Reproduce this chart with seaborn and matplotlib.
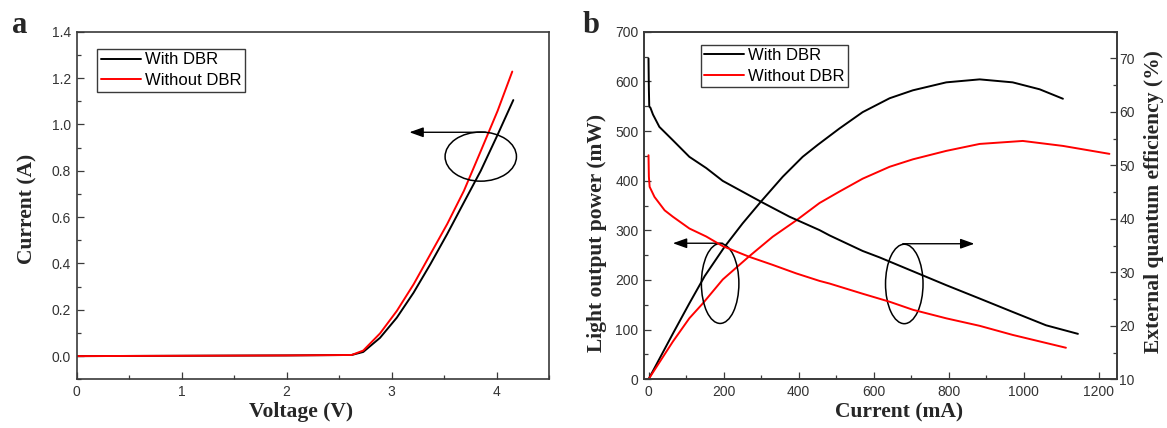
import matplotlib
matplotlib.use("Agg")
import matplotlib.pyplot as plt
from matplotlib.patches import Ellipse
from matplotlib.ticker import MultipleLocator
import pandas as pd
import seaborn as sns

# ---------------- data ----------------
series_labels = ["With DBR", "Without DBR"]
series_colors = ["#000000", "#ff0000"]

# (a) current-voltage
v_with = [0.0, 0.65, 2.0, 2.62, 2.73, 2.89, 3.05, 3.21, 3.37, 3.53, 3.69, 3.85, 4.01, 4.16]
i_with = [0.0, 0.001, 0.003, 0.005, 0.018, 0.079, 0.166, 0.274, 0.397, 0.527, 0.664, 0.800, 0.955, 1.105]
v_without = [0.0, 0.65, 2.0, 2.62, 2.73, 2.89, 3.05, 3.21, 3.37, 3.53, 3.69, 3.85, 4.01, 4.15]
i_without = [0.0, 0.001, 0.003, 0.005, 0.024, 0.098, 0.195, 0.31, 0.44, 0.57, 0.714, 0.885, 1.058, 1.228]

# (b) light output power vs current
cur_lop_with = [0, 65, 109, 150, 203, 251, 300, 358, 411, 451, 509, 571, 643, 705, 794, 883, 971, 1043, 1105]
lop_with = [0, 92, 153, 208, 267, 314, 358, 408, 448, 472, 505, 538, 566, 582, 598, 604, 598, 584, 565]
cur_lop_without = [0, 65, 109, 145, 198, 269, 331, 394, 456, 509, 571, 643, 705, 794, 883, 998, 1105, 1229]
lop_without = [0, 76, 123, 153, 201, 248, 287, 320, 355, 378, 404, 428, 443, 460, 474, 480, 470, 454]

# (b) external quantum efficiency vs current
cur_eqe_with = [0, 1, 2, 5, 12, 29, 65, 109, 154, 198, 300, 376, 456, 483, 571, 616, 705, 794, 883, 971, 1060, 1145]
eqe_with = [70.0, 64.2, 61.0, 60.8, 59.5, 57.2, 54.7, 51.6, 49.5, 47.1, 43.2, 40.4, 37.9, 36.9, 34.0, 32.8, 30.2, 27.6, 25.1, 22.6, 20.1, 18.5]
cur_eqe_without = [0, 1, 3, 16, 43, 65, 109, 154, 198, 269, 331, 394, 456, 483, 571, 643, 705, 794, 883, 971, 1113]
eqe_without = [51.9, 47.9, 46.0, 44.1, 41.6, 40.4, 38.2, 36.7, 34.9, 32.9, 31.4, 29.8, 28.4, 27.9, 26.0, 24.5, 23.0, 21.4, 20.0, 18.3, 15.9]

# guide marks: ellipse centre, width, height; arrow tail and head
iv_ellipse = (3.85, 0.861, 0.68, 0.212)
iv_arrow = ((3.90, 0.966), (3.17, 0.966))
lop_ellipse = (191, 193, 100, 161)
lop_arrow = ((198, 274), (65, 274))
eqe_ellipse = (682, 192, 100, 160)
eqe_arrow = ((678, 273), (869, 273))

# ---------------- style ----------------
sns.set_style("ticks")
plt.rcParams["font.family"] = ["Liberation Sans", "DejaVu Sans"]
plt.rcParams["xtick.direction"] = "in"
plt.rcParams["ytick.direction"] = "in"

SPINE = "#3a3a3a"
TICKTXT = "#333333"
label_font = dict(family=["Liberation Serif", "DejaVu Serif"], fontweight="bold", fontsize=15.5)

W, H = 1167, 428
fig = plt.figure(figsize=(W / 100, H / 100), dpi=100)
fig.patch.set_facecolor("white")


def px_axes(left, right, top, bottom):
    return [left / W, (H - bottom) / H, (right - left) / W, (bottom - top) / H]


def style_axis(ax, sides):
    for s, sp in ax.spines.items():
        sp.set_color(SPINE)
        sp.set_linewidth(1.2)
        sp.set_visible(True)
    ax.tick_params(which="major", length=4.8, width=0.9, color=SPINE,
                   labelsize=10, labelcolor=TICKTXT, pad=4)
    ax.tick_params(which="minor", length=2.8, width=0.9, color=SPINE)
    ax.tick_params(which="both", top=False, right="right" in sides,
                   left="left" in sides, bottom="bottom" in sides,
                   labelright="right" in sides, labelleft="left" in sides)


def draw_guides(ax, ell, arrow):
    cx, cy, w, h = ell
    ax.add_patch(Ellipse((cx, cy), w, h, fill=False, edgecolor="black", lw=1.1, zorder=5))
    tail, head = arrow
    ax.annotate("", xy=head, xytext=tail,
                arrowprops=dict(arrowstyle="-|>,head_length=0.7,head_width=0.25",
                                color="black", lw=1.0, shrinkA=0, shrinkB=0,
                                mutation_scale=12), zorder=5)


def make_legend(ax, handles, anchor):
    leg = ax.legend(handles, series_labels, loc="upper left", bbox_to_anchor=anchor,
                    borderaxespad=0, frameon=True, fancybox=False, framealpha=1,
                    edgecolor=SPINE, fontsize=12, handlelength=2.4, handletextpad=0.25,
                    borderpad=0.2, labelspacing=0.35)
    leg.get_frame().set_linewidth(1.0)
    for t in leg.get_texts():
        t.set_color("black")
    return leg


# ---------------- (a) I-V ----------------
ax_a = fig.add_axes(px_axes(76.7, 549, 31.7, 379.3))
iv = pd.concat([
    pd.DataFrame({"Voltage": v_with, "Current": i_with, "Sample": series_labels[0]}),
    pd.DataFrame({"Voltage": v_without, "Current": i_without, "Sample": series_labels[1]}),
])
sns.lineplot(data=iv, x="Voltage", y="Current", hue="Sample", palette=series_colors,
             hue_order=series_labels, estimator=None, sort=False, lw=1.4,
             legend=False, ax=ax_a)
ax_a.set_xlim(0, 4.5)
ax_a.set_ylim(-0.1, 1.4)
ax_a.xaxis.set_major_locator(MultipleLocator(1))
ax_a.xaxis.set_minor_locator(MultipleLocator(0.5))
ax_a.yaxis.set_major_locator(MultipleLocator(0.2))
ax_a.yaxis.set_minor_locator(MultipleLocator(0.1))
style_axis(ax_a, ("left", "bottom"))
ax_a.set_xlabel("Voltage (V)", **label_font)
ax_a.set_ylabel("Current (A)", **label_font)
ax_a.xaxis.label.set_verticalalignment("center")
ax_a.yaxis.label.set_verticalalignment("center")
ax_a.xaxis.set_label_coords(0.476, -0.095)
ax_a.yaxis.set_label_coords(-0.104, 0.49)
draw_guides(ax_a, iv_ellipse, iv_arrow)
make_legend(ax_a, ax_a.lines[:2], (0.0436, 0.950))

# ---------------- (b) L-I and EQE ----------------
ax_b = fig.add_axes(px_axes(644, 1117.3, 31.7, 379.3))
ax_c = ax_b.twinx()
lop = pd.concat([
    pd.DataFrame({"Current": cur_lop_with, "Power": lop_with, "Sample": series_labels[0]}),
    pd.DataFrame({"Current": cur_lop_without, "Power": lop_without, "Sample": series_labels[1]}),
])
eqe = pd.concat([
    pd.DataFrame({"Current": cur_eqe_with, "EQE": eqe_with, "Sample": series_labels[0]}),
    pd.DataFrame({"Current": cur_eqe_without, "EQE": eqe_without, "Sample": series_labels[1]}),
])
sns.lineplot(data=lop, x="Current", y="Power", hue="Sample", palette=series_colors,
             hue_order=series_labels, estimator=None, sort=False, lw=1.4,
             legend=False, ax=ax_b)
sns.lineplot(data=eqe, x="Current", y="EQE", hue="Sample", palette=series_colors,
             hue_order=series_labels, estimator=None, sort=False, lw=1.4,
             legend=False, ax=ax_c)
ax_b.set_xlim(-12, 1250)
ax_b.set_ylim(0, 700)
ax_c.set_ylim(10, 75)
ax_b.xaxis.set_major_locator(MultipleLocator(200))
ax_b.xaxis.set_minor_locator(MultipleLocator(100))
ax_b.yaxis.set_major_locator(MultipleLocator(100))
ax_b.yaxis.set_minor_locator(MultipleLocator(50))
ax_c.yaxis.set_major_locator(MultipleLocator(10))
ax_c.yaxis.set_minor_locator(MultipleLocator(5))
style_axis(ax_b, ("left", "bottom"))
style_axis(ax_c, ("right",))
ax_c.tick_params(axis="y", pad=1.5)
ax_b.set_xlabel("Current (mA)", **label_font)
ax_b.set_ylabel("Light output power (mW)", **label_font)
ax_c.set_ylabel("External quantum efficiency (%)", **label_font)
for lab in (ax_b.xaxis.label, ax_b.yaxis.label, ax_c.yaxis.label):
    lab.set_verticalalignment("center")
ax_b.xaxis.set_label_coords(0.539, -0.095)
ax_b.yaxis.set_label_coords(-0.099, 0.42)
ax_c.yaxis.set_label_coords(1.077, 0.51)
draw_guides(ax_b, lop_ellipse, lop_arrow)
make_legend(ax_c, ax_b.lines[:2], (0.1198, 0.962))

# panel letters
letter_font = dict(family=["Liberation Serif", "DejaVu Serif"], fontweight="bold", fontsize=22)
fig.text(11.5 / W, (H - 33) / H, "a", ha="left", va="baseline", **letter_font)
fig.text(583 / W, (H - 33) / H, "b", ha="left", va="baseline", **letter_font)

# ellipse/arrow for the efficiency curves, drawn in power units
draw_guides(ax_b, eqe_ellipse, eqe_arrow)

fig.savefig("out.png", dpi=100)
